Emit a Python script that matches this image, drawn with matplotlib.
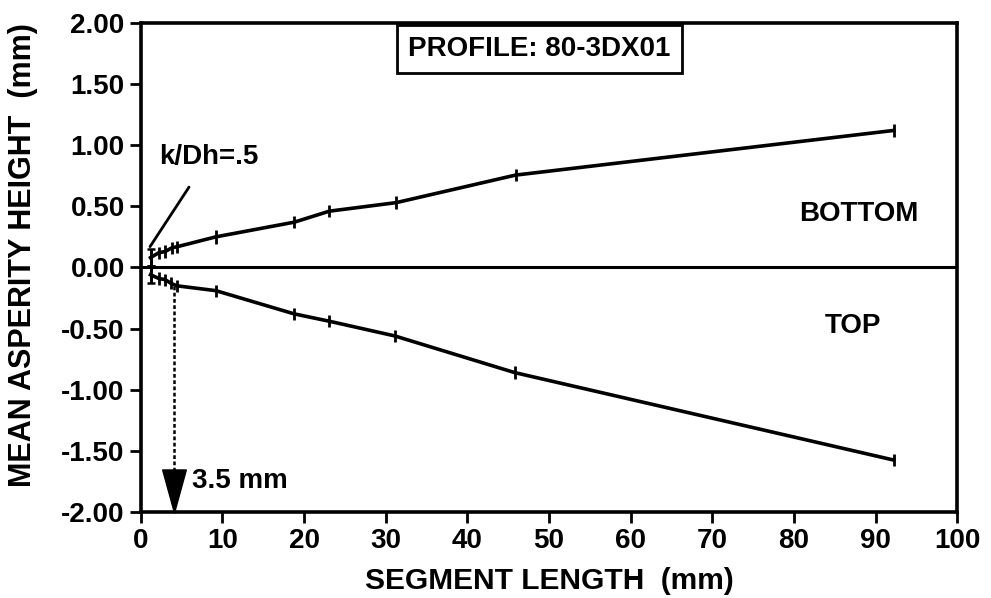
import matplotlib as mpl
import matplotlib.pyplot as plt
from matplotlib.path import Path

mpl.use("Agg")

# segment length (mm) and mean asperity height (mm)
bottom_x = [1.2, 2.2, 3.0, 3.8, 4.5, 9.2, 18.8, 23.1, 31.3, 45.9, 92.2]
bottom_y = [0.08, 0.12, 0.13, 0.16, 0.17, 0.25, 0.37, 0.46, 0.53, 0.755, 1.12]
bottom_err = [0.07, 0.05, 0.05, 0.05, 0.05, 0.06, 0.05, 0.05, 0.05, 0.05, 0.05]

top_x = [1.2, 2.2, 3.0, 3.7, 4.4, 9.2, 18.8, 23.1, 31.1, 45.8, 92.2]
top_y = [-0.06, -0.09, -0.10, -0.13, -0.15, -0.19, -0.38, -0.44, -0.56, -0.86, -1.575]
top_err = [0.07, 0.05, 0.05, 0.05, 0.05, 0.05, 0.05, 0.05, 0.05, 0.05, 0.05]

xticks = [0, 10, 20, 30, 40, 50, 60, 70, 80, 90, 100]
yticks = [-2.0, -1.5, -1.0, -0.5, 0.0, 0.5, 1.0, 1.5, 2.0]

mpl.rcParams.update({
    "font.family": ["Liberation Sans", "DejaVu Sans"],
    "font.weight": "bold",
    "axes.labelweight": "bold",
    "font.size": 20,
})

fig = plt.figure(figsize=(9.91, 5.98), dpi=100)
ax = fig.add_axes([0.142, 0.1438, 0.824, 0.818])

ax.errorbar(bottom_x, bottom_y, yerr=bottom_err, color="black", lw=2.6,
            elinewidth=2.0, capsize=0)
ax.errorbar(top_x, top_y, yerr=top_err, color="black", lw=2.6,
            elinewidth=2.0, capsize=0)
# capped bars on the first points
ax.errorbar(bottom_x[:1], bottom_y[:1], yerr=bottom_err[:1], fmt="none",
            ecolor="black", elinewidth=1.8, capsize=3, capthick=1.8)
ax.errorbar(top_x[:1], top_y[:1], yerr=top_err[:1], fmt="none",
            ecolor="black", elinewidth=1.8, capsize=3, capthick=1.8)

ax.axhline(0, color="black", lw=2.2)

# 3.5 mm marker
ax.plot([4.1, 4.1], [top_y[4], -1.7], color="black", lw=1.8, ls=(0, (1.5, 1)))
tri = Path([(-0.55, 1), (0.55, 1), (0, -1), (-0.55, 1)],
           [Path.MOVETO, Path.LINETO, Path.LINETO, Path.CLOSEPOLY])
ax.plot([4.1], [-1.83], marker=tri, markersize=31, color="black", clip_on=False)
ax.text(6.3, -1.75, "3.5 mm", ha="left", va="center")

# k/Dh label
ax.annotate("k/Dh=.5", xy=(1.14, 0.17), xytext=(8.3, 0.90),
            ha="center", va="center",
            arrowprops=dict(arrowstyle="-", color="black", lw=2.0,
                            shrinkA=12, shrinkB=0))

ax.text(48.8, 1.786, "PROFILE: 80-3DX01", ha="center", va="center",
        bbox=dict(boxstyle="square,pad=0.4", fc="white", ec="black", lw=2.0))
ax.text(87.9, 0.44, "BOTTOM", ha="center", va="center")
ax.text(87.2, -0.48, "TOP", ha="center", va="center")

ax.set_xlim(0, 100)
ax.set_ylim(-2.0, 2.0)
ax.set_xticks(xticks)
ax.set_xticklabels([str(v) for v in xticks])
ax.set_yticks(yticks)
ax.set_yticklabels([f"{v:.2f}" for v in yticks])
ax.tick_params(direction="out", length=8, width=2.0, pad=3.5)

for s in ax.spines.values():
    s.set_linewidth(2.6)

ax.set_xlabel("SEGMENT LENGTH  (mm)", fontsize=21.5)
ax.set_ylabel("MEAN ASPERITY HEIGHT  (mm)", fontsize=22)
ax.xaxis.set_label_coords(0.5, -0.112)
ax.yaxis.set_label_coords(-0.126, 0.525)

fig.savefig("out.png", dpi=100, facecolor="white")
